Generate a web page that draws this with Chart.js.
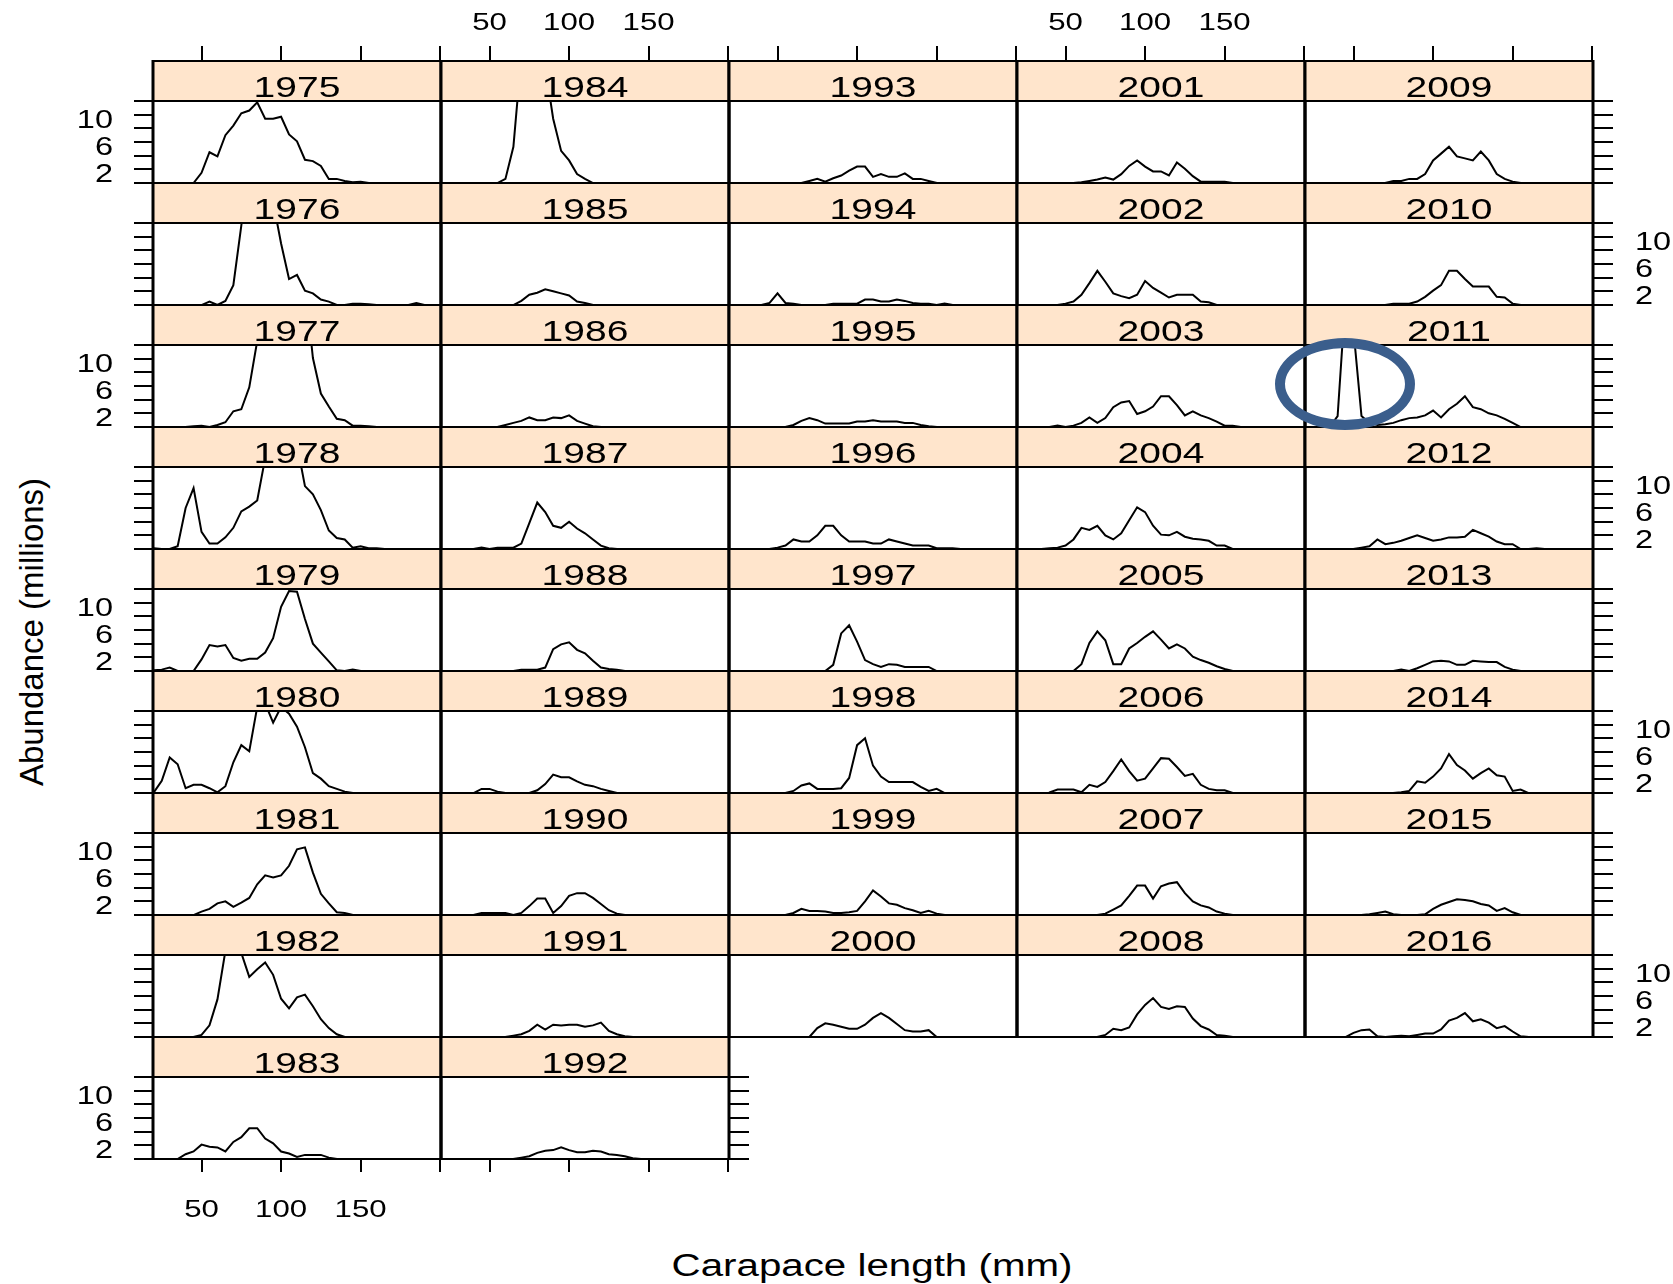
<!DOCTYPE html>
<html lang="en">
<head>
  <meta charset="UTF-8" />
  <title>Abundance by carapace length, 1975-2016</title>
  <script src="https://cdn.jsdelivr.net/npm/chart.js"></script>
  <style>
    html, body { margin: 0; padding: 0; background: #fff; }
    #page {
      position: relative; width: 1673px; height: 1284px; overflow: hidden;
      font-family: "Liberation Sans", Arial, Helvetica, sans-serif;
    }
    #page canvas { position: absolute; }
    .title { position: absolute; white-space: nowrap; color: #000; line-height: 1; }
    #xtitle { left: 872px; top: 1265px; font-size: 31px; transform: translate(-50%, -50%) scaleX(1.3); }
    #ytitle { left: 31px; top: 632px; font-size: 33px; transform: translate(-50%, -50%) rotate(-90deg); }
    #ring {
      position: absolute; left: 1275px; top: 338px; width: 140px; height: 92px;
      box-sizing: border-box; border: 10.5px solid #3b5e8c; border-radius: 50%; z-index: 10;
    }
  </style>
</head>
<body>
<div id="page">
  <div id="ytitle" class="title">Abundance (millions)</div>
  <div id="xtitle" class="title">Carapace length (mm)</div>
  <div id="ring"></div>
</div>

<script>
  // carapace length classes (mm)
  const carapaceMm = [20, 25, 30, 35, 40, 45, 50, 55, 60, 65, 70, 75, 80, 85, 90, 95, 100, 105,
                      110, 115, 120, 125, 130, 135, 140, 145, 150, 155, 160, 165, 170, 175, 180, 185, 190, 195];

  // abundance (millions) per length class, one array per survey year
  const y1975 = [0,0,0,0,0,0.9,2.4,5.4,4.8,7.9,9.3,11.1,11.5,12.7,10.3,10.3,10.6,8.0,7.0,4.3,4.1,3.4,1.5,1.5,1.2,1.0,1.1,0.9,0,0,0,0,0,0,0,0];
  const y1976 = [0,0,0,0,0,0,0.9,1.4,0.9,1.5,3.8,12.5,22,25,22,16,9.9,4.7,5.3,3.0,2.6,1.7,1.4,0.9,0.9,1.1,1.1,1.0,0.9,0.9,0.9,0.9,0.9,1.2,0.9,0];
  const y1977 = [0,0,0,0,0.9,1.0,1.1,0.9,1.2,1.6,3.2,3.5,6.7,13.5,20,24,25,24,23,22,11.0,5.8,3.9,2.1,1.9,1.1,1.1,1.0,0.9,0,0,0,0,0,0,0];
  const y1978 = [1.0,0.9,0.9,1.3,6.9,9.8,3.4,1.7,1.7,2.6,4.0,6.4,7.1,8.0,14.2,18,19,18,16.2,10.1,8.9,6.6,3.6,2.5,2.3,1.1,1.3,1.0,1.0,0.9,0,0,0,0,0,0];
  const y1979 = [1.0,1.1,1.4,0.9,0.9,0.9,2.6,4.7,4.5,4.7,2.8,2.4,2.7,2.7,3.6,5.7,10.3,12.6,12.5,8.5,4.9,3.6,2.3,1.0,0.9,1.1,0.9,0,0,0,0,0,0,0,0,0];
  const y1980 = [1.0,2.7,6.1,5.1,1.6,2.1,2.1,1.6,1.0,1.9,5.4,7.9,7.0,13.5,14,11.2,13.5,12.5,10.6,7.6,3.8,3.0,1.9,1.5,1.1,0.9,0,0,0,0,0,0,0,0,0,0];
  const y1981 = [0,0,0,0,0,0.9,1.4,1.8,2.6,2.9,2.1,2.7,3.4,5.4,6.7,6.4,6.7,8.1,10.5,10.8,7.1,4.0,2.6,1.3,1.2,0.9,0,0,0,0,0,0,0,0,0,0];
  const y1982 = [0,0,0,0,0,0.9,1.2,2.6,6.4,13.5,16,13.2,9.7,10.8,11.8,10.0,6.5,5.1,6.7,7.1,5.4,3.5,2.2,1.3,0.9,0,0,0,0,0,0,0,0,0,0,0];
  const y1983 = [0,0,0,0.9,1.6,2.0,3.0,2.7,2.6,2.0,3.4,4.1,5.4,5.4,3.9,3.2,2.0,1.7,1.2,1.5,1.5,1.5,1.1,0.9,0,0,0,0,0,0,0,0,0,0,0,0];
  const y1984 = [0,0,0,0,0,0,0,0.9,1.5,6.2,19.6,25,25,18,10.3,5.6,4.2,2.2,1.5,0.9,0,0,0,0,0,0,0,0,0,0,0,0,0,0,0,0];
  const y1985 = [0,0,0,0,0,0,0,0,0,0.9,1.5,2.4,2.7,3.2,2.9,2.6,2.3,1.4,1.2,0.9,0,0,0,0,0,0,0,0,0,0,0,0,0,0,0,0];
  const y1986 = [0,0,0,0,0,0,0,0.9,1.2,1.5,1.8,2.3,1.9,1.9,2.3,2.2,2.6,1.8,1.4,1.0,0.9,0,0,0,0,0,0,0,0,0,0,0,0,0,0,0];
  const y1987 = [0,0,0,0,0.9,1.1,0.9,1.1,1.1,1.1,1.7,4.7,7.7,6.3,4.3,4.0,4.9,3.9,3.2,2.3,1.4,1.0,0.9,0,0,0,0,0,0,0,0,0,0,0,0,0];
  const y1988 = [0,0,0,0,0,0,0,0,0.9,0.9,1.1,1.1,1.1,1.4,4.1,4.8,5.1,4.0,3.5,2.4,1.4,1.2,1.1,0.9,0,0,0,0,0,0,0,0,0,0,0,0];
  const y1989 = [0,0,0,0,0.9,1.5,1.5,1.1,0.9,0.9,0.9,0.9,1.3,2.2,3.6,3.2,3.2,2.6,2.1,1.9,1.5,1.2,0.9,0,0,0,0,0,0,0,0,0,0,0,0,0];
  const y1990 = [0,0,0,0,0.9,1.2,1.2,1.2,1.2,0.9,1.2,2.2,3.3,3.3,1.2,2.2,3.7,4.1,4.1,3.4,2.5,1.6,1.1,0.9,0,0,0,0,0,0,0,0,0,0,0,0];
  const y1991 = [0,0,0,0,0,0,0,0,0.9,1.1,1.3,1.8,2.7,2.0,2.7,2.6,2.7,2.7,2.4,2.6,3.0,1.8,1.3,1.0,0.9,0,0,0,0,0,0,0,0,0,0,0];
  const y1992 = [0,0,0,0,0,0,0,0,0,0.9,1.1,1.3,1.8,2.1,2.2,2.6,2.2,1.9,1.9,2.1,2.0,1.6,1.5,1.3,1.0,0.9,0,0,0,0,0,0,0,0,0,0];
  const y1993 = [0,0,0,0,0,0,0,0,0.9,0.9,1.2,1.5,1.1,1.6,2.0,2.7,3.3,3.3,1.8,2.2,1.8,1.8,2.3,1.5,1.5,1.2,0.9,0,0,0,0,0,0,0,0,0];
  const y1994 = [0,0,0,0,0.9,1.2,2.6,1.2,1.1,0.9,0.9,0.9,0.9,1.1,1.1,1.1,1.1,1.7,1.7,1.4,1.4,1.7,1.5,1.2,1.1,1.1,0.9,1.1,0.9,0,0,0,0,0,0,0];
  const y1995 = [0,0,0,0,0,0,0,0.9,1.2,1.8,2.2,1.9,1.4,1.4,1.4,1.4,1.7,1.7,1.9,1.7,1.7,1.7,1.5,1.5,1.2,1.0,0.9,0,0,0,0,0,0,0,0,0];
  const y1996 = [0,0,0,0,0,0.9,1.1,1.4,2.3,2.0,2.0,2.9,4.3,4.3,2.9,2.0,2.0,2.0,1.7,1.7,2.3,2.0,1.7,1.4,1.4,1.4,1.0,1.0,1.0,0.9,0,0,0,0,0,0];
  const y1997 = [0,0,0,0,0,0,0,0,0,0,0,0,0.9,1.8,6.4,7.6,5.2,2.5,1.9,1.5,1.9,1.8,1.5,1.5,1.5,1.5,0.9,0,0,0,0,0,0,0,0,0];
  const y1998 = [0,0,0,0,0,0,0,0.9,1.2,2.0,2.3,1.5,1.5,1.5,1.6,3.1,7.9,8.9,4.9,3.3,2.5,2.5,2.5,2.5,1.8,1.2,1.5,0.9,0,0,0,0,0,0,0,0];
  const y1999 = [0,0,0,0,0,0,0,0.9,1.2,1.8,1.5,1.5,1.4,1.2,1.2,1.3,1.5,2.9,4.5,3.6,2.6,2.4,1.9,1.6,1.2,1.5,1.1,0.9,0,0,0,0,0,0,0,0];
  const y2000 = [0,0,0,0,0,0,0,0,0,0,0.9,2.2,2.9,2.7,2.4,2.1,2.1,2.7,3.7,4.4,3.7,2.8,1.9,1.7,1.7,1.9,0.9,0,0,0,0,0,0,0,0,0];
  const y2001 = [0,0,0,0,0,0,0,0.9,1.0,1.2,1.4,1.7,1.4,2.2,3.4,4.2,3.3,2.6,2.6,2.0,3.9,3.0,1.9,1.1,1.1,1.1,1.1,0.9,0,0,0,0,0,0,0,0];
  const y2002 = [0,0,0,0,0,0.9,1.1,1.4,2.4,4.1,5.9,4.3,2.6,2.2,1.9,2.4,4.4,3.4,2.7,2.0,2.4,2.4,2.4,1.4,1.3,0.9,0.9,0,0,0,0,0,0,0,0,0];
  const y2003 = [0,0,0,0,0.9,1.1,0.9,1.1,1.5,2.3,1.5,2.2,3.8,4.5,4.7,2.8,3.2,3.9,5.4,5.4,4.1,2.6,3.2,2.6,2.2,1.7,1.1,1.1,0.9,0,0,0,0,0,0,0];
  const y2004 = [0,0,0,0.9,1.0,1.1,1.4,2.3,4.0,3.7,4.3,2.9,2.3,3.2,5.1,7.0,6.3,4.3,3.0,2.9,3.4,2.7,2.4,2.3,2.1,1.4,1.4,0.9,0.9,0,0,0,0,0,0,0];
  const y2005 = [0,0,0,0,0,0,0,0.9,1.9,5.0,6.7,5.4,1.9,1.9,4.2,5.0,5.9,6.7,5.5,4.2,4.8,4.2,3.0,2.5,2.1,1.6,1.2,0.9,0,0,0,0,0,0,0,0];
  const y2006 = [0,0,0,0,1.0,1.4,1.4,1.4,1.0,2.1,1.8,2.5,4.1,5.8,4.1,2.7,3.0,4.5,6.0,5.9,4.7,3.4,3.7,2.1,1.5,1.3,1.3,0.9,0,0,0,0,0,0,0,0];
  const y2007 = [0,0,0,0,0,0,0,0,0,0,0.9,1.1,1.7,2.3,3.7,5.2,5.2,3.3,5.1,5.5,5.7,4.1,2.9,2.3,2.0,1.4,1.1,0.9,0,0,0,0,0,0,0,0];
  const y2008 = [0,0,0,0,0,0,0,0,0,0,0.9,1.2,2.1,1.9,2.3,4.2,5.6,6.6,5.3,5.0,5.4,5.3,3.6,2.5,2.0,1.2,1.1,0.9,0,0,0,0,0,0,0,0];
  const y2009 = [0,0,0,0,0,0,0,0,0,0,0.9,1.2,1.2,1.5,1.5,2.2,4.2,5.2,6.2,4.8,4.5,4.2,5.5,4.2,2.2,1.5,1.1,0.9,0,0,0,0,0,0,0,0];
  const y2010 = [0,0,0,0,0,0,0,0,0,0,0.9,1.1,1.1,1.1,1.4,2.1,3.0,3.8,5.9,5.9,4.7,3.6,3.6,3.6,2.1,2.0,1.1,0.9,0,0,0,0,0,0,0,0];
  const y2011 = [0,0,0,0.9,2.5,20,15,2.5,1.5,1.2,1.3,1.5,1.9,2.2,2.3,2.6,3.3,2.3,3.5,4.3,5.4,3.8,3.5,2.9,2.6,2.1,1.5,0.9,0,0,0,0,0,0,0,0];
  const y2012 = [0,0,0,0,0,0,0.9,1.1,1.3,2.3,1.6,1.8,2.1,2.5,2.9,2.5,2.1,2.3,2.6,2.6,2.7,3.7,3.2,2.7,2.0,1.6,1.6,0.9,0.9,1.0,0.9,0,0,0,0,0];
  const y2013 = [0,0,0,0,0,0,0,0,0,0,0.9,0.9,1.1,0.9,1.3,1.8,2.3,2.4,2.3,1.8,1.8,2.4,2.3,2.2,2.2,1.5,1.1,0.9,0,0,0,0,0,0,0,0];
  const y2014 = [0,0,0,0,0,0,0,0,0,0,0,0.9,1.0,1.2,2.6,2.4,3.3,4.5,6.6,5.0,4.2,3.0,3.8,4.5,3.5,3.3,1.2,1.4,0.9,0,0,0,0,0,0,0];
  const y2015 = [0,0,0,0,0,0,0,0.9,1.0,1.2,1.4,1.0,0.9,0.9,0.9,1.0,1.8,2.4,2.8,3.2,3.1,2.9,2.5,2.3,1.5,1.9,1.3,0.9,0,0,0,0,0,0,0,0];
  const y2016 = [0,0,0,0,0,0.9,1.5,1.9,2.0,1.0,0.9,1.0,1.1,1.0,1.2,1.4,1.4,2.0,3.3,3.7,4.4,3.2,3.5,3.0,2.2,2.5,1.7,1.0,0.9,0,0,0,0,0,0,0];

  // panel order, column by column (top to bottom)
  const yearColumns = [
    [1975, 1976, 1977, 1978, 1979, 1980, 1981, 1982, 1983],
    [1984, 1985, 1986, 1987, 1988, 1989, 1990, 1991, 1992],
    [1993, 1994, 1995, 1996, 1997, 1998, 1999, 2000],
    [2001, 2002, 2003, 2004, 2005, 2006, 2007, 2008],
    [2009, 2010, 2011, 2012, 2013, 2014, 2015, 2016]
  ];

  const xTickValues = [50, 100, 150, 200];
  const xTickLabels = [50, 100, 150];
  const yTickValues = [0.9, 2.9, 4.9, 6.9, 8.9, 10.9, 12.9];
  const yTickLabels = [2, 6, 10];

  const abundance = {
    1975: y1975, 1976: y1976, 1977: y1977, 1978: y1978, 1979: y1979, 1980: y1980, 1981: y1981,
    1982: y1982, 1983: y1983, 1984: y1984, 1985: y1985, 1986: y1986, 1987: y1987, 1988: y1988,
    1989: y1989, 1990: y1990, 1991: y1991, 1992: y1992, 1993: y1993, 1994: y1994, 1995: y1995,
    1996: y1996, 1997: y1997, 1998: y1998, 1999: y1999, 2000: y2000, 2001: y2001, 2002: y2002,
    2003: y2003, 2004: y2004, 2005: y2005, 2006: y2006, 2007: y2007, 2008: y2008, 2009: y2009,
    2010: y2010, 2011: y2011, 2012: y2012, 2013: y2013, 2014: y2014, 2015: y2015, 2016: y2016
  };

  // layout of the lattice
  const COL_LEFT = [153, 441, 729, 1017, 1305];
  const PANEL_W = 288, PANEL_H = 82, STRIP_H = 40;
  const ROW_TOP = 61, ROW_STEP = 122;
  const PAD = { left: 100, right: 100, top: 110, bottom: 70 };
  const STRETCH = 1.3;   // the picture is widened, so text is too
  const FONT = '"Liberation Sans", Arial, Helvetica, sans-serif';

  function drawText(ctx, str, x, y, size, align, base) {
    ctx.save();
    ctx.translate(x, y);
    ctx.scale(STRETCH, 1);
    ctx.font = size + 'px ' + FONT;
    ctx.textAlign = align;
    ctx.textBaseline = base;
    ctx.fillStyle = '#000';
    ctx.fillText(str, 0, 0);
    ctx.restore();
  }

  function line(ctx, x1, y1, x2, y2) {
    ctx.beginPath();
    ctx.moveTo(x1, y1);
    ctx.lineTo(x2, y2);
    ctx.stroke();
  }

  // strip, border, ticks and tick labels of one panel
  const latticePanel = {
    id: 'latticePanel',
    afterDraw(chart, args, o) {
      const ctx = chart.ctx;
      const a = chart.chartArea;
      const xs = chart.scales.x, ys = chart.scales.y;
      const sTop = a.top - STRIP_H;
      ctx.save();
      ctx.fillStyle = '#ffe5cc';
      ctx.fillRect(a.left, sTop, a.right - a.left, STRIP_H);
      ctx.strokeStyle = '#000';

      // horizontal rules a bit lighter than the column rules
      ctx.lineWidth = 2;
      [sTop, a.top, a.bottom].forEach(yy => line(ctx, a.left - 1, yy, a.right + 1, yy));
      ctx.lineWidth = 3;
      line(ctx, a.left, sTop - 1, a.left, a.bottom + 1);
      line(ctx, a.right, sTop - 1, a.right, a.bottom + 1);

      drawText(ctx, String(o.year), (a.left + a.right) / 2, sTop + 36, 30, 'center', 'alphabetic');

      ctx.lineWidth = 2;
      ctx.beginPath();
      yTickValues.forEach(v => {
        const py = Math.round(ys.getPixelForValue(v));
        if (o.left) { ctx.moveTo(a.left - 19, py); ctx.lineTo(a.left, py); }
        if (o.right) { ctx.moveTo(a.right, py); ctx.lineTo(a.right + 20, py); }
      });
      xTickValues.forEach(v => {
        const px = Math.round(xs.getPixelForValue(v));
        if (o.top) { ctx.moveTo(px, sTop - 15); ctx.lineTo(px, sTop); }
        if (o.bottom) { ctx.moveTo(px, a.bottom); ctx.lineTo(px, a.bottom + 13); }
      });
      ctx.stroke();

      yTickLabels.forEach(v => {
        const py = ys.getPixelForValue(v);
        if (o.leftLabels) drawText(ctx, String(v), a.left - 40, py, 25, 'right', 'middle');
        if (o.rightLabels) drawText(ctx, String(v), a.right + 42, py, 25, 'left', 'middle');
      });
      xTickLabels.forEach(v => {
        const px = xs.getPixelForValue(v);
        if (o.topLabels) drawText(ctx, String(v), px, sTop - 38, 24, 'center', 'middle');
        if (o.bottomLabels) drawText(ctx, String(v), px, a.bottom + 51, 24, 'center', 'middle');
      });
      ctx.restore();
    }
  };

  const page = document.getElementById('page');

  yearColumns.forEach((years, col) => {
    years.forEach((year, row) => {
      const cv = document.createElement('canvas');
      cv.width = PANEL_W + PAD.left + PAD.right;
      cv.height = PANEL_H + PAD.top + PAD.bottom;
      cv.style.left = (COL_LEFT[col] - PAD.left) + 'px';
      cv.style.top = (ROW_TOP + row * ROW_STEP + STRIP_H - PAD.top) + 'px';
      page.appendChild(cv);

      const vals = abundance[year];
      new Chart(cv, {
        type: 'line',
        data: {
          datasets: [{
            data: carapaceMm.map((x, i) => ({ x: x, y: vals[i] })),
            borderColor: '#000',
            borderWidth: 2,
            pointRadius: 0,
            tension: 0,
            fill: false
          }]
        },
        options: {
          responsive: false,
          animation: false,
          events: [],
          layout: { padding: PAD },
          scales: {
            x: { type: 'linear', min: 19.5, max: 200.5, display: false },
            y: { type: 'linear', min: 0.9, max: 12.9, display: false }
          },
          plugins: {
            legend: { display: false },
            tooltip: { enabled: false },
            latticePanel: {
              year: year,
              left: col === 0,
              leftLabels: col === 0 && row % 2 === 0,
              right: col === 4 || (col === 1 && row === 8),
              rightLabels: col === 4 && row % 2 === 1,
              top: row === 0,
              topLabels: row === 0 && (col === 1 || col === 3),
              bottom: row === 8,
              bottomLabels: row === 8 && col === 0
            }
          }
        },
        plugins: [latticePanel]
      });
    });
  });
</script>
</body>
</html>
